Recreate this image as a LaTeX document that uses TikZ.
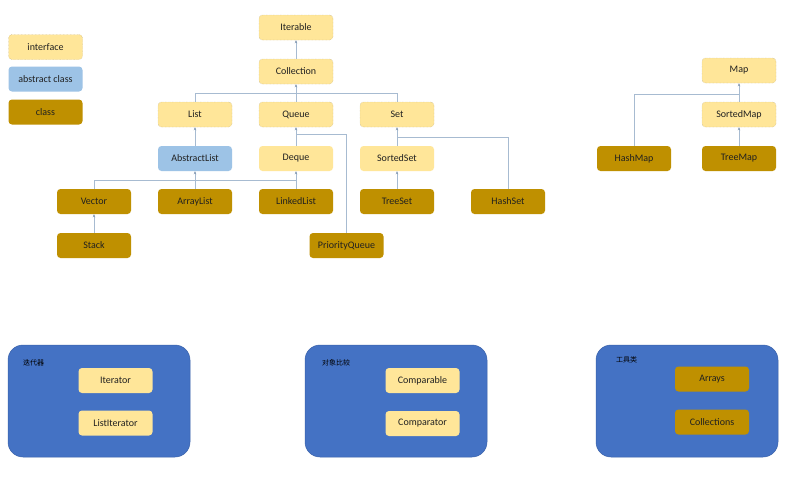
\documentclass[tikz,border=0pt]{standalone}
\usepackage{fontspec}
\setmainfont{Carlito}
\newfontfamily\cjk{Noto Sans CJK SC}
\usetikzlibrary{arrows.meta}
\definecolor{ifill}{HTML}{FFE699}
\definecolor{iline}{HTML}{B8A670}
\definecolor{afill}{HTML}{9DC3E6}
\definecolor{cfill}{HTML}{BF9000}
\definecolor{gfill}{HTML}{4472C4}
\definecolor{gline}{HTML}{3A62AA}
\definecolor{conncol}{HTML}{A7BBD1}
\definecolor{arrcol}{HTML}{7F95B0}
\definecolor{txt}{HTML}{202020}
\tikzset{
  box/.style={rounded corners=3.5pt, minimum width=74pt, minimum height=25pt, inner sep=0pt, font=\fontsize{10}{12}\selectfont, text=txt},
  ibox/.style={box, fill=ifill, draw=iline, densely dotted, line width=0.4pt},
  ipbox/.style={box, fill=ifill},
  abox/.style={box, fill=afill},
  cbox/.style={box, fill=cfill},
  grp/.style={rounded corners=15pt, fill=gfill, draw=gline, line width=0.5pt},
  conn/.style={draw=conncol, line width=0.7pt, -{Stealth[length=3pt,width=2.5pt,color=arrcol]}},
  seg/.style={draw=conncol, line width=0.7pt},
  glabel/.style={font=\cjk\fontsize{7}{8}\selectfont, text=black, anchor=west, inner sep=0pt}
}
\begin{document}
\begin{tikzpicture}[x=1pt,y=-1pt]
\useasboundingbox (0,0) rectangle (800,477);
\fill[white] (0,0) rectangle (800,477);
% legend
\node[ibox] (lint) at (45.5,47) {interface};
\node[abox] (labs) at (45.5,79) {abstract class};
\node[cbox] (lcls) at (45.5,112) {class};
% collection hierarchy
\node[ibox] (Iterable) at (296,27.5) {Iterable};
\node[ibox] (Collection) at (296,71.5) {Collection};
\node[ibox] (List) at (195,114.5) {List};
\node[ibox] (Queue) at (296,114.5) {Queue};
\node[ibox] (Set) at (397,114.5) {Set};
\node[abox] (AbstractList) at (195,158.5) {AbstractList};
\node[ipbox] (Deque) at (296,158.5) {Deque};
\node[ipbox] (SortedSet) at (397,158.5) {SortedSet};
\node[cbox] (Vector) at (94,201.5) {Vector};
\node[cbox] (ArrayList) at (195,201.5) {ArrayList};
\node[cbox] (LinkedList) at (296,201.5) {LinkedList};
\node[cbox] (TreeSet) at (397,201.5) {TreeSet};
\node[cbox] (HashSet) at (508,201.5) {HashSet};
\node[cbox] (Stack) at (94,245.5) {Stack};
\node[cbox] (PriorityQueue) at (346.5,245.5) {PriorityQueue};
% map hierarchy
\node[ibox] (Map) at (739,70.5) {Map};
\node[ibox] (SortedMap) at (739,114.5) {SortedMap};
\node[cbox] (HashMap) at (634,158.5) {HashMap};
\node[cbox] (TreeMap) at (739,158.5) {TreeMap};
% junction coordinates
\coordinate (jColl) at (296,93);
\coordinate (jQueue) at (296,134);
\coordinate (jSet) at (397,137);
\coordinate (jAbs) at (195,180);
\coordinate (jMap) at (739,94);
% connectors
\draw[seg] (List.north) |- (jColl);
\draw[seg] (Set.north) |- (jColl);
\draw[seg] (PriorityQueue.north) |- (jQueue);
\draw[seg] (HashSet.north) |- (jSet);
\draw[seg] (Vector.north) |- (jAbs);
\draw[seg] (LinkedList.north) |- (jAbs);
\draw[seg] (HashMap.north) |- (jMap);
\draw[conn] (Collection) -- (Iterable);
\draw[conn] (Queue) -- (Collection);
\draw[conn] (AbstractList) -- (List);
\draw[conn] (Deque) -- (Queue);
\draw[conn] (SortedSet) -- (Set);
\draw[conn] (ArrayList) -- (AbstractList);
\draw[conn] (LinkedList) -- (Deque);
\draw[conn] (Stack) -- (Vector);
\draw[conn] (TreeSet) -- (SortedSet);
\draw[conn] (SortedMap) -- (Map);
\draw[conn] (TreeMap) -- (SortedMap);
% groups
\draw[grp] (8,345) rectangle (190,457);
\draw[grp] (305,345) rectangle (487,457);
\draw[grp] (596,345) rectangle (778,457);
\node[glabel] (g1) at (23,363) {迭代器};
\node[glabel] (g2) at (322,363) {对象比较};
\node[glabel] (g3) at (616,360) {工具类};
\node[ipbox] (Iterator) at (115.5,380.5) {Iterator};
\node[ipbox] (ListIterator) at (115.5,423) {ListIterator};
\node[ipbox] (Comparable) at (422.5,380.5) {Comparable};
\node[ipbox] (Comparator) at (422.5,423.5) {Comparator};
\node[cbox] (Arrays) at (712,379) {Arrays};
\node[cbox] (Collections) at (712,422) {Collections};
\end{tikzpicture}
\end{document}
